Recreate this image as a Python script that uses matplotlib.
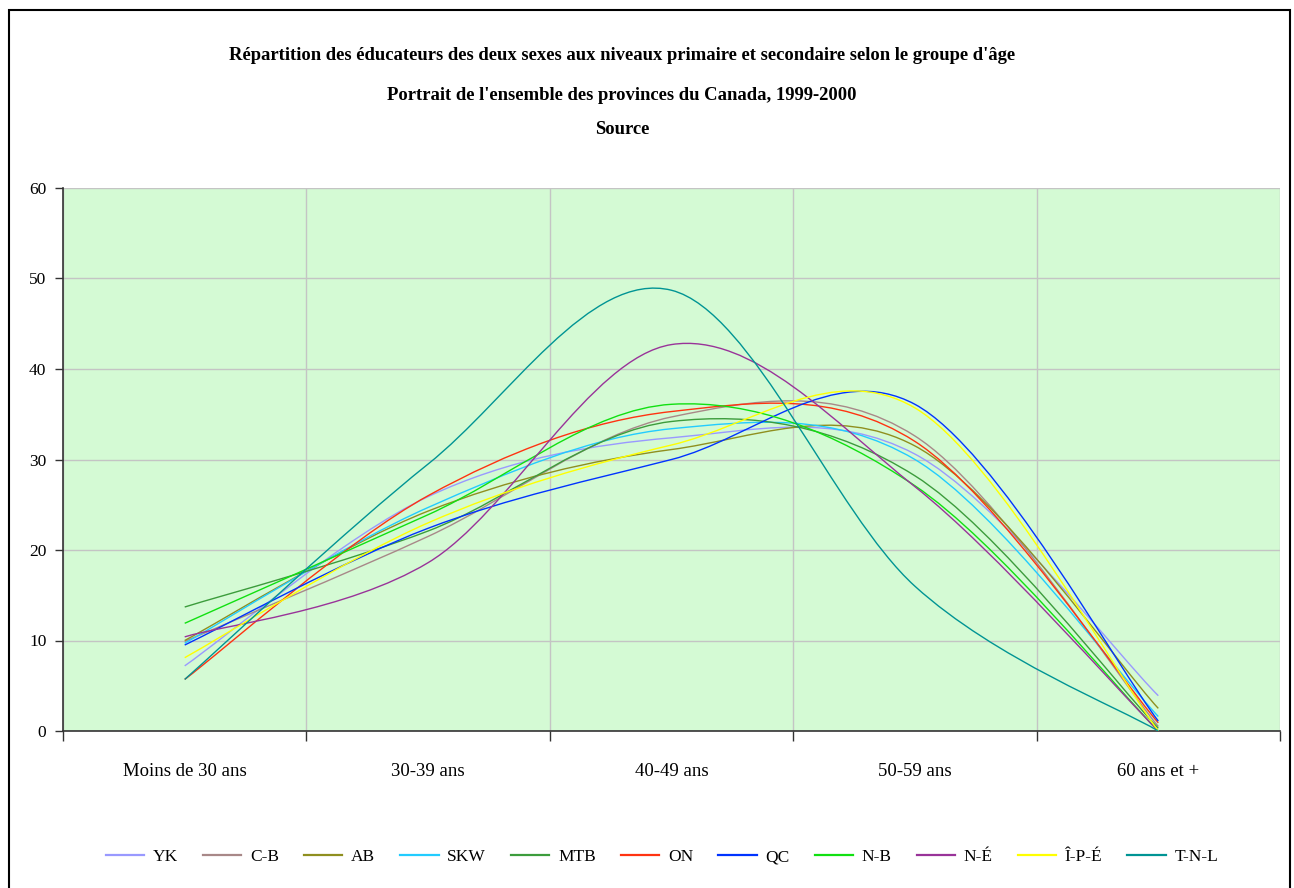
import matplotlib
matplotlib.use("Agg")
import matplotlib.pyplot as plt
from matplotlib.path import Path
from matplotlib.patches import PathPatch, Rectangle
from matplotlib.lines import Line2D
import numpy as np

categories = ["Moins de 30 ans", "30-39 ans", "40-49 ans", "50-59 ans", "60 ans et +"]
series_names = ["YK", "C-B", "AB", "SKW", "MTB", "ON", "QC", "N-B", "N-É", "Î-P-É", "T-N-L"]

yk   = [7.2, 25.9, 32.4, 30.6, 3.9]
cb   = [9.9, 21.5, 34.7, 32.6, 0.5]
ab   = [10.0, 24.3, 31.1, 31.5, 2.5]
skw  = [9.7, 24.7, 33.4, 30.0, 1.6]
mtb  = [13.7, 22.1, 34.2, 28.2, 0.3]
on   = [5.7, 26.0, 35.3, 32.0, 0.9]
qc   = [9.5, 22.4, 30.0, 36.1, 1.1]
nb   = [11.9, 23.9, 36.1, 27.1, 0.0]
ne   = [10.4, 18.6, 42.7, 27.0, 0.0]
ipe  = [8.1, 23.0, 31.6, 35.7, 0.0]
tnl  = [5.7, 29.5, 48.7, 16.0, 0.0]

all_series = [yk, cb, ab, skw, mtb, on, qc, nb, ne, ipe, tnl]
colors = ["#9999FF", "#A88888", "#8F8F1F", "#22CCFF", "#3C9C3C", "#FF3311",
          "#0033FF", "#11E011", "#993399", "#FFFF00", "#009494"]

title_lines = ["Répartition des éducateurs des deux sexes aux niveaux primaire et secondaire selon le groupe d'âge",
               "Portrait de l'ensemble des provinces du Canada, 1999-2000",
               "Source"]

W, H = 1294, 888
fig = plt.figure(figsize=(W / 100, H / 100), dpi=100)
fig.patch.set_facecolor("white")
serif = ["Liberation Serif", "DejaVu Serif"]

ax = fig.add_axes([63 / W, 1 - 731 / H, (1280 - 63) / W, (731 - 188) / H])
ax.set_facecolor("#D4FAD4")


def smooth_path(xs, ys):
    pts = np.column_stack([xs, ys]).astype(float)
    n = len(pts)
    verts = [pts[0]]
    codes = [Path.MOVETO]
    for i in range(n - 1):
        p0 = pts[i - 1] if i > 0 else pts[i]
        p1 = pts[i]
        p2 = pts[i + 1]
        p3 = pts[i + 2] if i + 2 < n else pts[i + 1]
        c1 = p1 + (p2 - p0) / 6.0
        c2 = p2 - (p3 - p1) / 6.0
        verts += [c1, c2, p2]
        codes += [Path.CURVE4] * 3
    return Path(verts, codes)


x = np.arange(len(categories))
handles = []
for name, vals, col in zip(series_names, all_series, colors):
    patch = PathPatch(smooth_path(x, vals), facecolor="none", edgecolor=col, lw=1.0, zorder=3)
    ax.add_patch(patch)
    handles.append(Line2D([], [], color=col, lw=1.6))

ax.set_xlim(-0.5, len(categories) - 0.5)
ax.set_ylim(0, 60)
ax.set_yticks(np.arange(0, 61, 10))
ax.set_xticks(x)
ax.set_xticklabels(categories, family=serif, fontsize=13.5)
ax.set_xticks(np.arange(-0.5, len(categories), 1.0), minor=True)
ax.tick_params(axis="x", which="major", length=0, pad=23)
ax.tick_params(axis="x", which="minor", length=7, width=1, color="#333333", direction="out")
ax.tick_params(axis="y", length=6, width=1, color="#333333", direction="out", pad=6)
for lab in ax.get_yticklabels():
    lab.set_family(serif)
    lab.set_fontsize(12.5)
ax.grid(axis="y", which="major", color="#C4C4C4", lw=1.0, zorder=1)
ax.grid(axis="x", which="minor", color="#C4C4C4", lw=1.0, zorder=1)
ax.set_axisbelow(True)
for s in ["top", "right"]:
    ax.spines[s].set_visible(False)
for s in ["left", "bottom"]:
    ax.spines[s].set_color("#333333")
    ax.spines[s].set_linewidth(1.2)

# titles
tx = 622 / W
for txt, ypx in zip(title_lines, [55, 95, 130]):
    fig.text(tx, 1 - ypx / H, txt, ha="center", va="center", family=serif,
             fontsize=13.4, fontweight="bold")

# legend
leg = fig.legend(handles, series_names, loc="center", bbox_to_anchor=(662 / W, 1 - 857 / H),
                 ncol=len(series_names), frameon=False, prop={"family": serif, "size": 12.5},
                 handlelength=2.2, handletextpad=0.5, columnspacing=1.45)

# outer border
fig.patches.append(Rectangle((9 / W, -0.05), (1290 - 9) / W, 1.05 - 10 / H,
                             transform=fig.transFigure, fill=False, edgecolor="black",
                             lw=1.5, zorder=10))

fig.savefig("out.png", dpi=100)
